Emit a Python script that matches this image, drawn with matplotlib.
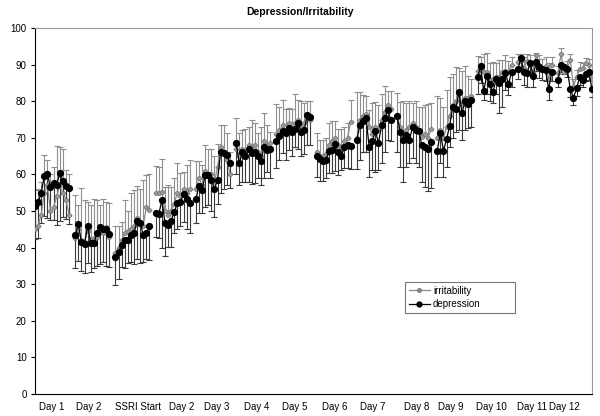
import numpy as np
import matplotlib
matplotlib.use("Agg")
import matplotlib.pyplot as plt
from matplotlib.lines import Line2D

plt.rcParams['font.family'] = ['Liberation Sans', 'DejaVu Sans']

title = "Depression/Irritability"
day_labels = ["Day 1", "Day 2", "SSRI Start", "Day 2", "Day 3", "Day 4", "Day 5",
              "Day 6", "Day 7", "Day 8", "Day 9", "Day 10", "Day 11", "Day 12"]

dep_mean = [
    [51.4, 52.5, 54.8, 59.6, 60.1, 56.5, 57.6, 57.2, 60.3, 58.3, 56.8, 56.4],
    [43.4, 46.4, 41.6, 41.1, 45.9, 41.3, 41.3, 43.9, 45.5, 45.2, 45.1, 43.6],
    [37.3, 38.9, 40.7, 42.1, 42.1, 43.5, 43.9, 47.4, 46.8, 43.4, 43.9, 45.9],
    [49.4, 49.1, 53.0, 46.8, 46.2, 47.4, 49.8, 52.1, 52.5, 54.6, 53.2, 52.3],
    [53.4, 56.8, 55.7, 59.8, 59.7, 58.6, 56.0, 58.6, 66.2, 65.8, 65.3, 63.0],
    [68.7, 63.0, 66.2, 64.9, 66.9, 65.8, 66.0, 64.9, 63.7, 67.4, 66.7, 66.9],
    [69.1, 70.5, 71.9, 71.4, 72.6, 71.6, 72.3, 74.0, 71.7, 72.1, 76.2, 75.8],
    [64.9, 64.1, 63.7, 63.8, 66.5, 66.7, 68.3, 66.1, 64.9, 67.4, 68.0, 67.8],
    [69.4, 73.5, 74.7, 75.3, 67.4, 69.0, 71.9, 68.6, 73.4, 75.3, 77.5, 74.8],
    [76.0, 71.7, 69.3, 70.8, 69.4, 72.9, 72.1, 71.8, 68.0, 67.6, 66.9, 68.9],
    [66.5, 71.4, 66.5, 69.6, 73.3, 78.5, 77.9, 82.4, 76.9, 80.0, 79.2, 80.2],
    [86.5, 89.5, 82.8, 87.0, 84.7, 82.4, 86.0, 85.1, 86.0, 87.7, 84.7, 87.9],
    [88.7, 91.7, 87.9, 87.7, 90.4, 86.9, 90.8, 89.3, 88.7, 88.5, 83.3, 88.1],
    [85.8, 89.9, 89.3, 88.7, 83.2, 81.0, 83.5, 86.5, 85.8, 87.4, 87.9, 83.2],
]
dep_err = [
    [9, 10, 8, 11, 12, 9, 10, 11, 13, 10, 9, 10],
    [9, 10, 8, 8, 10, 8, 7, 9, 10, 9, 10, 9],
    [7.5, 7.6, 5.9, 7.6, 6.4, 7.5, 8.4, 10.4, 11.1, 7.4, 6.9, 9.3],
    [6.6, 6.6, 13, 9.1, 6, 7.2, 5.9, 7.1, 6.5, 7.6, 8.2, 8.4],
    [6.8, 7.4, 6.3, 8.8, 8.1, 8.6, 7.6, 6.8, 11.2, 9.8, 8.3, 6.8],
    [8.7, 5.9, 8.2, 6.9, 8.9, 8.3, 8.4, 5.9, 6.7, 8.5, 6, 7.9],
    [7.4, 6.6, 6.1, 7.4, 5.9, 6.6, 4.7, 7, 6.7, 6.6, 8.2, 7.8],
    [5.5, 5.8, 5.4, 4.9, 6.2, 6.2, 7.3, 6.3, 3.7, 5.7, 6.3, 6.3],
    [7.9, 9.5, 8.7, 9.3, 8.1, 7.8, 11.2, 7.4, 10.4, 9.3, 8.1, 5.8],
    [10, 9.6, 11.3, 8.8, 6.4, 8.4, 9.1, 9.8, 10, 11.1, 11.4, 12.7],
    [7.1, 8.4, 7.1, 7.5, 5.7, 8.6, 6.2, 10.4, 7.5, 7.9, 6.6, 7.2],
    [4.5, 4.5, 2.5, 5, 4.7, 2.8, 4, 8.4, 7.5, 4.7, 3, 3.9],
    [2.5, 3, 3.5, 3.7, 2.5, 3, 2.5, 3, 3, 3, 3, 2.5],
    [2, 2, 2, 2, 2, 2, 2, 2, 2, 2, 2, 2],
]
irr_mean = [
    [45, 46, 49, 55, 57, 50, 51, 54, 57, 55, 53, 49],
    [42.5, 45, 42, 41.5, 44.5, 42, 42.5, 43, 44.5, 44, 45.5, 43],
    [38.5, 40, 42, 44, 44.5, 45, 46, 48, 47, 46, 51.2, 50.3],
    [55, 55, 55.3, 50, 49, 50, 52, 55, 54, 56, 55, 55.9],
    [56, 59, 57, 61, 60, 60, 58, 62, 67.6, 66, 64, 60],
    [67, 65, 67, 66, 68, 67, 68, 66, 65, 69, 68, 68.5],
    [71, 72, 73.5, 72, 74, 72, 74, 75, 73, 74, 76, 75],
    [66, 65, 65, 65.5, 68, 69, 70, 68, 67, 69, 70, 74.4],
    [70, 75, 76, 76.5, 73, 71, 73, 72, 75, 77, 79, 78],
    [76, 73, 71, 72, 73, 74, 73, 72, 70.3, 71, 70, 72.3],
    [70, 72, 70, 73, 76, 79, 80, 82, 79, 81, 81, 81.5],
    [88.3, 88.5, 87.9, 88.1, 85.8, 86, 86.5, 86.5, 88, 88.3, 88, 90],
    [90.6, 91.1, 89, 91, 90, 88, 92.6, 90, 89, 89.6, 86.2, 89.9],
    [87.7, 92.9, 87.9, 89, 91.3, 84, 86.5, 88.7, 89, 90.4, 89.9, 86],
]
irr_err = [
    [10.7, 10, 9, 10.3, 7, 10, 11, 13.8, 10.4, 12, 8.2, 11],
    [11.9, 6.6, 14.2, 11.5, 8, 9.6, 10.9, 10, 7.1, 9.2, 7, 9.3],
    [7.4, 6, 5, 9, 5.5, 9.8, 9.7, 8.8, 9, 12.6, 8.6, 9.8],
    [7.3, 7, 8.8, 6.6, 8, 6.6, 6.9, 8, 6.5, 4.7, 7.5, 8],
    [7.7, 4.7, 5.7, 7, 6.9, 7, 7, 6.3, 5.9, 7.5, 7.4, 6],
    [8.3, 6.2, 5, 6.3, 4.9, 8, 6, 5.4, 8, 7.9, 5.5, 3.2],
    [8.2, 6.5, 6.7, 6, 4.1, 6, 8, 5.3, 7, 5.6, 4, 5],
    [5.4, 4.4, 4.5, 4.4, 6, 5.7, 4.7, 4.3, 5.3, 4, 4, 5.9],
    [12.6, 7.6, 5.7, 5, 4.6, 8.4, 6.9, 7, 7.1, 7.2, 3.9, 4.9],
    [6.2, 6.9, 9, 7.5, 7, 5.6, 7, 6.5, 8.2, 8, 9.2, 7.1],
    [11.4, 8.8, 8.3, 10, 10.7, 8.4, 9.3, 7, 9.3, 8.5, 5.9, 4.5],
    [4, 3.5, 5.1, 5.2, 4.6, 4.6, 4, 4.8, 3.3, 4.3, 3, 2],
    [2.4, 1.9, 3, 2, 2.5, 3, 0.7, 2.5, 2.5, 2.4, 4.2, 2.1],
    [2, 1.5, 2, 2, 1.5, 2, 2, 2, 1.5, 1.5, 1.5, 1.5],
]

# category index where each day label sits (Excel-like placement)
label_cat = [5.5, 17.4, 33.2, 47.4, 58.7, 71.6, 84.0, 96.8, 109.0, 123.2, 134.5, 147.4, 160.6, 171.0]

n_per = len(dep_mean[0])
step = n_per + 1

fig = plt.figure(figsize=(6.0, 4.16), dpi=100)
ax = fig.add_axes([35/600, 1-394/416, 557/600, (394-28)/416])

irr_col = '#8a8a8a'
dep_col = '#000000'
for s in range(len(dep_mean)):
    x = np.arange(n_per) + s*step
    ax.errorbar(x, irr_mean[s], yerr=[np.zeros(n_per), irr_err[s]], fmt='none',
                ecolor='#8f8f8f', elinewidth=0.8, capsize=2.2, capthick=0.8, zorder=2)
    ax.errorbar(x, dep_mean[s], yerr=[dep_err[s], np.zeros(n_per)], fmt='none',
                ecolor='#3a3a3a', elinewidth=0.8, capsize=2.2, capthick=0.8, zorder=3)
    ax.plot(x, irr_mean[s], color=irr_col, lw=0.9, marker='o', ms=3.0,
            mfc='#999999', mec='#777777', mew=0.5, zorder=4)
    ax.plot(x, dep_mean[s], color=dep_col, lw=0.9, marker='o', ms=4.2,
            mfc='black', mec='black', zorder=5)

ax.set_xlim(0, (len(dep_mean)-1)*step + n_per - 1)
ax.set_ylim(0, 100)
ax.set_yticks(np.arange(0, 101, 10))
ax.set_xticks(label_cat)
ax.set_xticklabels(day_labels)
ax.tick_params(axis='x', length=0, labelsize=7, pad=6)
ax.tick_params(axis='y', length=3, width=0.8, labelsize=7, pad=3, direction='out')
for side in ['top', 'right']:
    ax.spines[side].set_color('#9a9a9a')
    ax.spines[side].set_linewidth(0.8)
for side in ['left', 'bottom']:
    ax.spines[side].set_color('black')
    ax.spines[side].set_linewidth(0.8)

fig.text(0.5, 1-12/416, title, ha='center', va='center', fontsize=7.5, fontweight='bold')

handles = [Line2D([], [], color=irr_col, lw=0.9, marker='o', ms=2.5, mfc='#999999', mec='#777777'),
           Line2D([], [], color=dep_col, lw=0.9, marker='o', ms=3.5, mfc='black', mec='black')]
leg = ax.legend(handles, ['irritability', 'depression'], loc='lower left',
                bbox_to_anchor=(400/600, 1-318/416, 120/600, 33/416), bbox_transform=fig.transFigure,
                fontsize=7, frameon=True, fancybox=False, handlelength=2.2, handletextpad=0.3,
                borderpad=0.4, labelspacing=0.35, mode='expand')
leg.get_frame().set_edgecolor('#555555')
leg.get_frame().set_linewidth(0.8)

fig.savefig('out.png', dpi=100)
